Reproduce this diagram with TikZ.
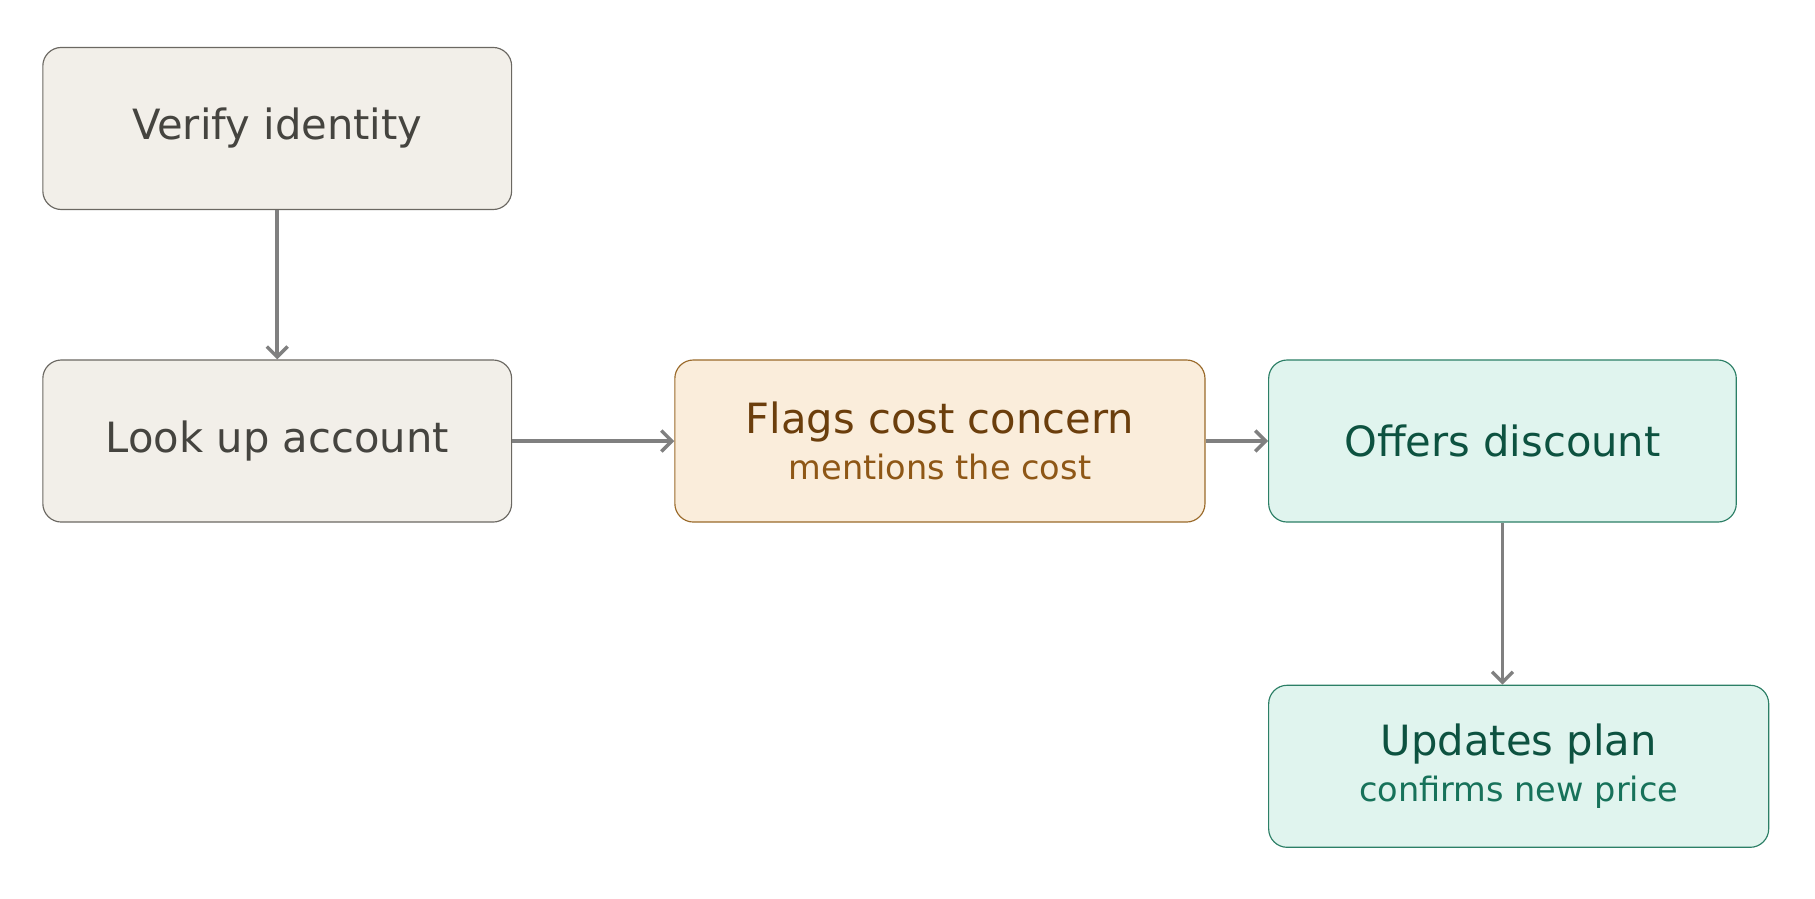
\documentclass[tikz,border=0pt]{standalone}
\usepackage{fontspec}
\setmainfont{DejaVu Sans}
\usetikzlibrary{arrows.meta}
\definecolor{greyfill}{HTML}{F2EFE9}
\definecolor{greydraw}{HTML}{6B6862}
\definecolor{greytext}{HTML}{45443F}
\definecolor{orangefill}{HTML}{FAEDDB}
\definecolor{orangedraw}{HTML}{9A6A2A}
\definecolor{orangetext}{HTML}{6B3E0C}
\definecolor{orangesub}{HTML}{8E5716}
\definecolor{greenfill}{HTML}{E0F4EE}
\definecolor{greendraw}{HTML}{2C7F66}
\definecolor{greentext}{HTML}{0D5240}
\definecolor{greensub}{HTML}{17725A}
\tikzstyle{box}=[shape=rectangle, rounded corners=16pt, line width=1pt, minimum height=140pt, align=center, font=\fontsize{36}{44}\selectfont]
\tikzstyle{grey box}=[box, fill=greyfill, draw=greydraw, text=greytext]
\tikzstyle{orange box}=[box, fill=orangefill, draw=orangedraw, text=orangetext]
\tikzstyle{green box}=[box, fill=greenfill, draw=greendraw, text=greentext]
\tikzstyle{flow}=[-{Straight Barb[length=9pt,width=18pt]}, draw=black!50, line width=3pt]
\newcommand{\subline}[2]{{\color{#1}\fontsize{29}{36}\selectfont #2}}

\begin{document}
\begin{tikzpicture}[x=1pt, y=-1pt]
    	\useasboundingbox (0,0) rectangle (1568,776);
    	\node [style=grey box, minimum width=405pt] (verify) at (239.5, 111) {Verify identity};
    	\node [style=grey box, minimum width=405pt] (lookup) at (239.5, 381) {Look up account};
    	\node [style=orange box, minimum width=458pt] (flags) at (812, 381) {Flags cost concern\\[-4pt]\subline{orangesub}{mentions the cost}};
    	\node [style=green box, minimum width=404pt] (offers) at (1298, 381) {Offers discount};
    	\node [style=green box, minimum width=432pt] (updates) at (1312, 662) {Updates plan\\[-4pt]\subline{greensub}{confirms new price}};
    	\draw [style=flow] (verify) -- (lookup);
    	\draw [style=flow] (lookup) -- (flags);
    	\draw [style=flow] (flags) -- (offers);
    	\draw [style=flow] (offers.south) -- (offers.south |- updates.north);
\end{tikzpicture}
\end{document}
